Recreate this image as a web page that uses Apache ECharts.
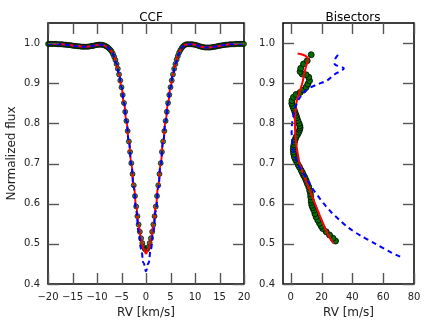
<!DOCTYPE html>
<html>
<head>
<meta charset="utf-8">
<script src="https://cdn.jsdelivr.net/npm/echarts@6.0.0/dist/echarts.min.js"></script>
<style>
  html, body { margin: 0; padding: 0; background: #fff; }
  #chart { width: 436px; height: 327px; }
</style>
</head>
<body>
<div id="chart"></div>
<script>
// tick labels
var ccfTicks = [-20, -15, -10, -5, 0, 5, 10, 15, 20];
var bisTicks = [0, 20, 40, 60, 80];
var fluxTicks = [0.4, 0.5, 0.6, 0.7, 0.8, 0.9, 1.0];

// CCF data points (green dots), RV in km/s
var ccfRv = [-20,-19.75,-19.5,-19.25,-19,-18.75,-18.5,-18.25,-18,-17.75,-17.5,-17.25,-17,-16.75,-16.5,-16.25,-16,-15.75,-15.5,-15.25,-15,-14.75,-14.5,-14.25,-14,-13.75,-13.5,-13.25,-13,-12.75,-12.5,-12.25,-12,-11.75,-11.5,-11.25,-11,-10.75,-10.5,-10.25,-10,-9.75,-9.5,-9.25,-9,-8.75,-8.5,-8.25,-8,-7.75,-7.5,-7.25,-7,-6.75,-6.5,-6.25,-6,-5.75,-5.5,-5.25,-5,-4.75,-4.5,-4.25,-4,-3.75,-3.5,-3.25,-3,-2.75,-2.5,-2.25,-2,-1.75,-1.5,-1.25,-1,-0.75,-0.5,-0.25,
  0,0.25,0.5,0.75,1,1.25,1.5,1.75,2,2.25,2.5,2.75,3,3.25,3.5,3.75,4,4.25,4.5,4.75,5,5.25,5.5,5.75,6,6.25,6.5,6.75,7,7.25,7.5,7.75,8,8.25,8.5,8.75,9,9.25,9.5,9.75,10,10.25,10.5,10.75,11,11.25,11.5,11.75,12,12.25,12.5,12.75,13,13.25,13.5,13.75,14,14.25,14.5,14.75,15,15.25,15.5,15.75,16,16.25,16.5,16.75,17,17.25,17.5,17.75,18,18.25,18.5,18.75,19,19.25,19.5,19.75,20];
var ccfFlux = [0.998,0.998,0.998,0.998,0.998,0.998,0.998,0.998,0.997,0.997,0.997,0.997,0.997,0.996,0.996,0.996,0.995,0.995,0.995,0.994,0.994,0.993,0.993,0.993,0.992,0.992,0.992,
  0.991,0.991,0.991,0.991,0.991,0.991,0.991,
  0.992,0.992,0.993,0.993,0.994,0.995,0.995,0.996,0.996,0.996,0.996,0.995,0.994,0.993,0.991,0.989,0.986,0.983,0.979,0.973,0.966,0.958,0.948,0.936,0.922,0.907,0.890,0.871,0.851,0.829,0.806,0.781,0.755,0.729,0.701,0.674,0.646,0.619,0.593,0.569,0.548,0.530,0.514,0.502,0.492,0.487,
  0.485,
  0.487,0.492,0.502,0.514,0.530,0.548,0.569,0.593,0.619,0.646,0.674,0.701,0.729,0.755,0.781,0.806,0.829,0.851,0.871,0.890,0.907,0.922,0.936,0.948,0.959,0.968,0.976,0.982,0.987,0.991,0.994,0.996,
  0.997,0.997,0.997,0.997,0.997,0.997,0.996,0.996,0.995,0.994,0.993,0.992,0.991,0.990,0.990,0.989,0.989,0.989,0.989,0.989,0.989,0.990,0.990,0.991,0.991,0.992,0.993,0.993,0.994,0.994,0.995,0.995,0.996,0.996,0.996,0.997,0.997,0.997,0.997,0.997,
  0.998,0.998,0.998,0.998,0.998,0.998,0.998,0.998];

// model lines (red fit, blue dashed)
var modelRv = [-20,-19.5,-19,-18.5,-18,-17.5,-17,-16.5,-16,-15.5,-15,-14.5,-14,-13.5,-13,-12.5,-12,-11.5,-11,-10.5,-10,-9.5,-9,-8.5,-8,-7.5,-7,-6.5,-6,-5.5,-5,-4.5,-4,-3.5,-3,-2.5,-2,-1.5,-1,-0.5,
  0,0.5,1,1.5,2,2.5,3,3.5,4,4.5,5,5.5,6,6.5,7,7.5,8,8.5,9,9.5,10,10.5,11,11.5,12,12.5,13,13.5,14,14.5,15,15.5,16,16.5,17,17.5,18,18.5,19,19.5,20];
var fitFlux = [0.998,0.998,0.998,0.998,0.997,0.997,0.997,0.996,0.995,0.995,0.994,0.993,0.992,0.992,0.991,0.991,0.991,0.992,0.993,0.994,0.995,0.996,0.996,0.994,0.991,0.986,0.979,0.966,0.948,0.922,0.890,0.851,0.806,0.755,0.701,0.646,0.593,0.547,0.511,0.488,
  0.476,
  0.488,0.511,0.547,0.593,0.646,0.701,0.755,0.806,0.851,0.890,0.922,0.948,0.968,0.982,0.991,0.996,0.997,0.997,0.997,0.996,0.994,0.992,0.990,0.989,0.989,0.989,0.990,0.991,0.992,0.993,0.994,0.995,0.996,0.997,0.997,0.997,0.998,0.998,0.998,0.998];
var altFlux = [0.998,0.998,0.998,0.998,0.997,0.997,0.997,0.996,0.995,0.995,0.994,0.993,0.992,0.992,0.991,0.991,0.991,0.992,0.993,0.994,0.995,0.996,0.996,0.994,0.991,0.986,0.979,0.966,0.948,0.922,0.890,0.851,0.806,0.755,0.698,0.639,0.581,0.530,0.487,0.452,
  0.432,
  0.452,0.487,0.530,0.581,0.639,0.698,0.755,0.806,0.851,0.890,0.922,0.948,0.968,0.982,0.991,0.996,0.997,0.997,0.997,0.996,0.994,0.992,0.990,0.989,0.989,0.989,0.990,0.991,0.992,0.993,0.994,0.995,0.996,0.997,0.997,0.997,0.998,0.998,0.998,0.998];

// bisector of the data (green), RV in m/s
var bisRv = [29.1,27.4,25.2,23.0,20.8,19.8,18.7,17.6,16.5,15.7,15.0,14.3,13.7,13.4,13.3,13.0,12.8,12.3,11.7,10.8,10.0,9.2,8.3,7.6,6.8,5.7,4.8,3.9,3.1,2.4,2.0,1.8,1.7,1.8,2.1,2.4,2.9,3.5,4.4,5.2,5.8,6.1,5.9,5.4,4.6,4.0,3.5,2.9,2.4,1.8,1.2,0.7,0.8,1.8,3.5,6.1,8.3,10.0,11.1,12.2,11.7,10.0,7.4,6.1,6.5,8.3,10.7,13.3];
var bisFlux = [0.507,0.514,0.522,0.530,0.538,0.544,0.551,0.559,0.567,0.575,0.584,0.590,0.596,0.603,0.609,0.617,0.625,0.633,0.642,0.650,0.658,0.665,0.671,0.677,0.683,0.691,0.697,0.704,0.710,0.716,0.723,0.729,0.735,0.741,0.747,0.753,0.760,0.766,0.772,0.778,0.784,0.789,0.794,0.800,0.807,0.814,0.820,0.826,0.832,0.838,0.844,0.850,0.857,0.865,0.872,0.877,0.883,0.890,0.898,0.906,0.915,0.921,0.923,0.929,0.937,0.948,0.956,0.971];

// bisector of the fit (red)
var fitBisRv = [27.6,24.6,22.2,20.0,17.9,15.8,13.8,11.7,9.6,7.6,5.8,4.8,3.9,3.3,2.9,2.8,2.9,3.3,4.2,5.8,7.5,8.6,9.8,11.2,4.5];
var fitBisFlux = [0.502,0.520,0.540,0.560,0.580,0.600,0.620,0.640,0.660,0.680,0.700,0.720,0.740,0.760,0.780,0.800,0.820,0.840,0.860,0.880,0.900,0.920,0.940,0.960,0.974];

// bisector of the second model (blue dashed)
var altBisRv = [71.0,64.5,55.0,45.5,37.5,31.5,26.0,21.5,17.5,13.8,10.5,7.5,4.5,2.6,1.3,0.8,0.6,0.9,1.8,3.0,5.2,8.0,12.0,18.0,24.0,28.5,34.5,28.5,28.8,31.0];
var altBisFlux = [0.468,0.480,0.500,0.520,0.540,0.560,0.580,0.600,0.620,0.640,0.660,0.680,0.700,0.720,0.740,0.760,0.780,0.800,0.820,0.840,0.860,0.875,0.888,0.898,0.908,0.922,0.937,0.948,0.960,0.972];

function pairs(xs, ys) {
  return xs.map(function (x, i) { return [x, ys[i]]; });
}

var font = 'DejaVu Sans';
var tickLen = 11;

function minus(v) { return String(v).replace('-', '\u2212'); }

function xAxis(grid, min, max, ticks, name) {
  return {
    type: 'value', gridIndex: grid, min: min, max: max,
    axisLine: { show: false, onZero: false },
    axisTick: { show: false },
    splitLine: { show: false },
    axisLabel: {
      customValues: ticks, margin: 8, color: '#222',
      fontFamily: font, fontSize: 10, formatter: minus
    },
    name: name, nameLocation: 'middle', nameGap: 22,
    nameTextStyle: { fontFamily: font, fontSize: 12, color: '#222' }
  };
}

function yAxis(grid, name) {
  return {
    type: 'value', gridIndex: grid, min: 0.4, max: 1.05,
    axisLine: { show: false, onZero: false },
    axisTick: { show: false },
    splitLine: { show: false },
    axisLabel: {
      customValues: fluxTicks, margin: 8, color: '#222',
      fontFamily: font, fontSize: 10,
      formatter: function (v) { return v.toFixed(1); }
    },
    name: name, nameLocation: 'middle', nameGap: 30,
    nameTextStyle: { fontFamily: font, fontSize: 12, color: '#222' }
  };
}

// inward ticks on all four sides, placed through the axes' own scales
function tickSeries(idx, values, onX, other) {
  return {
    type: 'custom', xAxisIndex: idx, yAxisIndex: idx, silent: true, z: 5,
    data: values.map(function (v) { return onX ? [v, other] : [other, v]; }),
    renderItem: function (params, api) {
      var cs = params.coordSys;
      var p = api.coord([api.value(0), api.value(1)]);
      var st = { stroke: '#555', lineWidth: 1.4 };
      var px = Math.round(p[0]) + 0.5;
      var py = Math.round(p[1]) + 0.5;
      var a, b;
      if (onX) {
        a = { x1: px, y1: cs.y + cs.height, x2: px, y2: cs.y + cs.height - tickLen };
        b = { x1: px, y1: cs.y, x2: px, y2: cs.y + tickLen };
      } else {
        a = { x1: cs.x, y1: py, x2: cs.x + tickLen, y2: py };
        b = { x1: cs.x + cs.width - tickLen, y1: py, x2: cs.x + cs.width, y2: py };
      }
      return { type: 'group', children: [
        { type: 'line', shape: a, style: st },
        { type: 'line', shape: b, style: st }
      ] };
    }
  };
}

function dotStyle() {
  return { color: '#007000', borderColor: '#000', borderWidth: 0.8 };
}

var chart = echarts.init(document.getElementById('chart'));
chart.setOption({
  animation: false,
  backgroundColor: '#fff',
  title: [
    { text: 'CCF', left: 146, top: 7, textAlign: 'center',
      textStyle: { fontFamily: font, fontSize: 12, fontWeight: 'normal', color: '#000' } },
    { text: 'Bisectors', left: 348, top: 7, textAlign: 'center',
      textStyle: { fontFamily: font, fontSize: 12, fontWeight: 'normal', color: '#000' } }
  ],
  grid: [
    { left: 48, top: 23, width: 196, height: 261, show: true, borderColor: '#000', borderWidth: 1.5, backgroundColor: 'transparent' },
    { left: 283, top: 23, width: 131, height: 261, show: true, borderColor: '#000', borderWidth: 1.5, backgroundColor: 'transparent' }
  ],
  xAxis: [
    xAxis(0, -20, 20, ccfTicks, 'RV [km/s]'),
    xAxis(1, -5, 80, bisTicks, 'RV [m/s]')
  ],
  yAxis: [
    yAxis(0, 'Normalized flux'),
    yAxis(1, '')
  ],
  series: [
    tickSeries(0, ccfTicks, true, 0.4),
    tickSeries(0, fluxTicks, false, -20),
    tickSeries(1, bisTicks, true, 0.4),
    tickSeries(1, fluxTicks, false, -5),

    { type: 'scatter', xAxisIndex: 0, yAxisIndex: 0, data: pairs(ccfRv, ccfFlux),
      symbol: 'circle', symbolSize: 5, itemStyle: dotStyle(), z: 2 },
    { type: 'line', xAxisIndex: 0, yAxisIndex: 0, data: pairs(modelRv, fitFlux),
      showSymbol: false, smooth: true, smoothMonotone: 'x',
      lineStyle: { color: '#ff0000', width: 2 }, z: 3 },
    { type: 'line', xAxisIndex: 0, yAxisIndex: 0, data: pairs(modelRv, altFlux),
      showSymbol: false, smooth: true, smoothMonotone: 'x',
      lineStyle: { color: '#0000ff', width: 2, type: [5, 3.5] }, z: 4 },

    { type: 'line', xAxisIndex: 1, yAxisIndex: 1, data: pairs(bisRv, bisFlux),
      symbol: 'circle', symbolSize: 6, showAllSymbol: true, itemStyle: dotStyle(),
      lineStyle: { width: 0 }, z: 2 },
    { type: 'line', xAxisIndex: 1, yAxisIndex: 1, data: pairs(fitBisRv, fitBisFlux),
      showSymbol: false, smooth: true,
      lineStyle: { color: '#ff0000', width: 2 }, z: 3 },
    { type: 'line', xAxisIndex: 1, yAxisIndex: 1, data: pairs(altBisRv, altBisFlux),
      showSymbol: false, smooth: 0.3,
      lineStyle: { color: '#0000ff', width: 2, type: [5, 4] }, z: 4 }
  ]
});
</script>
</body>
</html>
